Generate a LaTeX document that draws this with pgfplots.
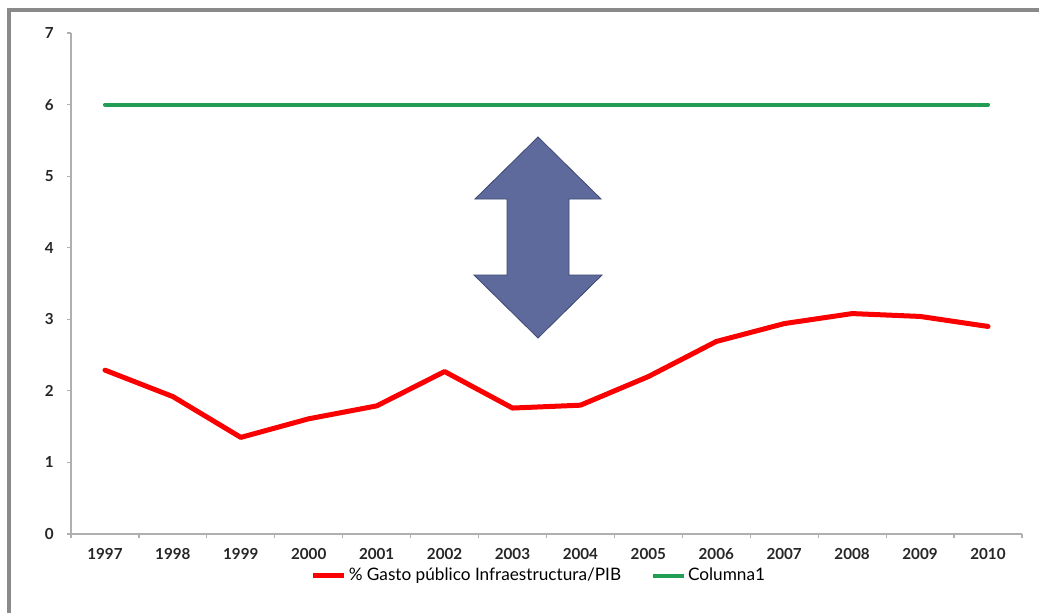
\documentclass[border=0pt]{standalone}
\usepackage{pgfplots}
\pgfplotsset{compat=1.18}
\usepackage{fontspec}
\setmainfont{Lato}

\definecolor{frameGray}{RGB}{138,138,138}
\definecolor{axisGray}{RGB}{175,175,175}
\definecolor{gastoRed}{RGB}{250,0,0}
\definecolor{refGreen}{RGB}{34,158,84}
\definecolor{arrowFill}{RGB}{94,106,156}
\definecolor{arrowEdge}{RGB}{62,72,112}

% % del PIB en infraestructura pública
\pgfplotstableread{
year value
1997 2.29
1998 1.92
1999 1.35
2000 1.61
2001 1.79
2002 2.27
2003 1.76
2004 1.80
2005 2.20
2006 2.69
2007 2.94
2008 3.08
2009 3.04
2010 2.90
}\gasto

% nivel de referencia
\pgfplotstableread{
year value
1997 6
1998 6
1999 6
2000 6
2001 6
2002 6
2003 6
2004 6
2005 6
2006 6
2007 6
2008 6
2009 6
2010 6
}\referencia

\begin{document}
\begin{tikzpicture}
\useasboundingbox (0,0) rectangle (519.5pt,-306pt);
\fill[white] (0,0) rectangle (519.5pt,-306pt);

% marco de la diapositiva
\begin{scope}[x=0.5pt,y=-0.5pt]
  \draw[line width=2pt, color=frameGray] (9,700) -- (9,10.3) -- (1100,10.3);
\end{scope}

\begin{axis}[
  at={(35.5pt,-267pt)}, anchor=south west,
  scale only axis, width=475.5pt, height=250.5pt,
  xmin=1996.5, xmax=2010.5, ymin=0, ymax=7,
  axis x line*=bottom, axis y line*=left,
  axis line style={-, draw=axisGray, line width=0.8pt},
  xtick={1997,...,2010},
  xticklabels={1997,1998,1999,2000,2001,2002,2003,2004,2005,2006,2007,2008,2009,2010},
  major x tick style={draw=none},
  minor xtick={1996.5,1997.5,...,2010.5},
  minor tick length=2pt,
  minor x tick style={draw=axisGray, line width=0.6pt},
  ytick={0,...,7},
  major tick length=2pt,
  y tick style={draw=axisGray, line width=0.6pt},
  tick align=outside,
  /pgf/number format/assume math mode=true,
  ticklabel style={font=\fontsize{7.6}{9}\selectfont\bfseries, text=black!85},
  xticklabel style={anchor=center, inner sep=0pt, yshift=-8pt},
  yticklabel style={anchor=east, inner sep=0pt, xshift=-6.5pt},
  legend style={at={(0.492,-0.0838)}, anchor=center, draw=none, fill=none,
    inner xsep=0pt, inner ysep=0pt,
    font=\fontsize{8.6}{10}\selectfont,
    nodes={inner xsep=1pt, inner ysep=0pt},
    /tikz/every even column/.append style={column sep=14pt}},
  legend columns=2,
  legend cell align=left,
  legend image code/.code={\draw[#1, line cap=butt] (0pt,0pt) -- (15.5pt,0pt);},
  clip=false,
]
\addplot[gastoRed, line width=2.5pt, line join=round, line cap=round] table[x=year, y=value] {\gasto};
\addlegendentry{\% Gasto público Infraestructura/PIB}
\addplot[refGreen, line width=2pt, line cap=round] table[x=year, y=value] {\referencia};
\addlegendentry{Columna1}
\end{axis}

% flecha de brecha
\begin{scope}[x=0.5pt,y=-0.5pt]
  \filldraw[fill=arrowFill, draw=arrowEdge, line width=0.4pt, line join=miter]
    (538,137) -- (601,199) -- (569,199) -- (569,275) -- (602,275) -- (538,338)
    -- (474,275) -- (507,275) -- (507,199) -- (475,199) -- cycle;
\end{scope}
\end{tikzpicture}
\end{document}
